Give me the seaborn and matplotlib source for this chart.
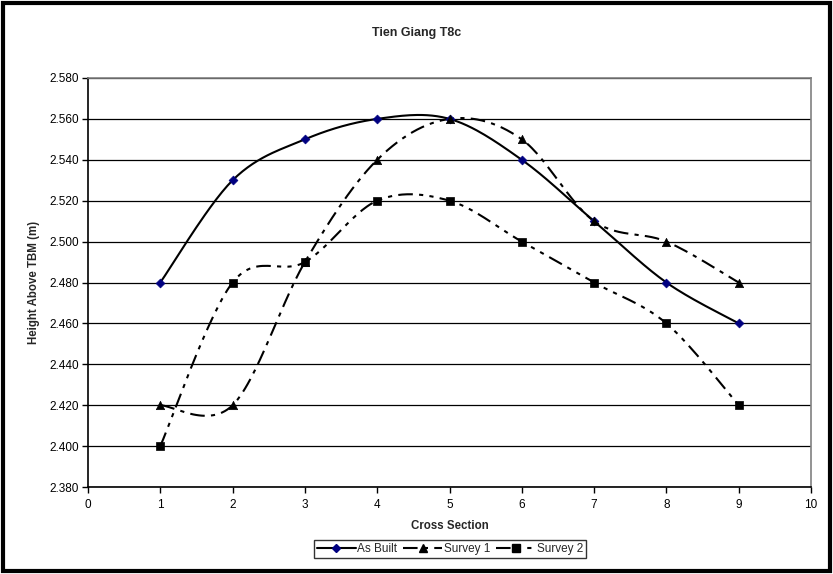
import numpy as np
import pandas as pd
import matplotlib
matplotlib.use("Agg")
import matplotlib.pyplot as plt
import seaborn as sns
from matplotlib.patches import Rectangle

sections = [1, 2, 3, 4, 5, 6, 7, 8, 9]
as_built = [2.48, 2.53, 2.55, 2.56, 2.56, 2.54, 2.51, 2.48, 2.46]
survey_1 = [2.42, 2.42, 2.49, 2.54, 2.56, 2.55, 2.51, 2.50, 2.48]
survey_2 = [2.40, 2.48, 2.49, 2.52, 2.52, 2.50, 2.48, 2.46, 2.42]
series_names = ["As Built", "Survey 1", "Survey 2"]

sns.set_theme(style="white")
plt.rcParams['font.family'] = ['Liberation Sans', 'DejaVu Sans']

df = pd.DataFrame({"Cross Section": sections * 3,
                   "Height": as_built + survey_1 + survey_2,
                   "Series": sum([[n] * len(sections) for n in series_names], [])})


def smooth(x, y, n=30):
    # Excel-style smoothed line: cubic Bezier with Catmull-Rom control points
    x = np.asarray(x, float); y = np.asarray(y, float)
    xs, ys = [], []
    for i in range(len(x) - 1):
        p0 = np.array([x[max(i - 1, 0)], y[max(i - 1, 0)]])
        p1 = np.array([x[i], y[i]])
        p2 = np.array([x[i + 1], y[i + 1]])
        p3 = np.array([x[min(i + 2, len(x) - 1)], y[min(i + 2, len(x) - 1)]])
        c1 = p1 + (p2 - p0) / 6.0
        c2 = p2 - (p3 - p1) / 6.0
        t = np.linspace(0, 1, n)[:, None]
        b = ((1 - t) ** 3) * p1 + 3 * ((1 - t) ** 2) * t * c1 + 3 * (1 - t) * t ** 2 * c2 + t ** 3 * p2
        xs.extend(b[:, 0]); ys.extend(b[:, 1])
    return np.array(xs), np.array(ys)


W, H = 833, 574
fig = plt.figure(figsize=(W / 100, H / 100), dpi=100)
L, R, T, B = 88, 811, 78, 487
ax = fig.add_axes([L / W, 1 - B / H, (R - L) / W, (B - T) / H])

styles = {
    "As Built": dict(color="black", ls="-", marker="D", mcolor="#000080", ms=4.5),
    "Survey 1": dict(color="black", ls=(0, (7, 3, 2, 3)), marker="^", mcolor="black", ms=6),
    "Survey 2": dict(color="black", ls=(0, (7, 3, 2, 3, 2, 3)), marker="s", mcolor="black", ms=5.5),
}

handles = []
for name in series_names:
    sub = df[df["Series"] == name]
    st = styles[name]
    sx, sy = smooth(sub["Cross Section"], sub["Height"])
    sns.lineplot(x=sx, y=sy, ax=ax, color=st["color"], lw=1.5, linestyle=st["ls"],
                 sort=False, estimator=None, legend=False)
    sns.scatterplot(x=sub["Cross Section"], y=sub["Height"], ax=ax, marker=st["marker"],
                    color=st["mcolor"], s=st["ms"] ** 2, edgecolor=st["mcolor"],
                    linewidth=0.5, legend=False, zorder=5)
    h, = ax.plot([], [], color=st["color"], lw=1.5, linestyle=st["ls"], marker=st["marker"],
                 markerfacecolor=st["mcolor"], markeredgecolor=st["mcolor"], markersize=st["ms"])
    handles.append(h)

ax.set_xlim(0, 10)
ax.set_ylim(2.38, 2.58)
ax.set_xticks(range(0, 11))
yt = np.arange(2.38, 2.5801, 0.02)
ax.set_yticks(yt)
ax.set_yticklabels([f"{v:.3f}" for v in yt])
ax.yaxis.grid(True, color="black", lw=0.9)
ax.xaxis.grid(False)
ax.tick_params(axis="both", direction="out", length=4, width=1, colors="black",
               labelsize=8.5, left=True, bottom=True)
ax.tick_params(axis="x", pad=4.5)
ax.tick_params(axis="y", pad=2.5)
for s in ["left", "bottom"]:
    ax.spines[s].set_color("black"); ax.spines[s].set_linewidth(1.2)
for s in ["top", "right"]:
    ax.spines[s].set_color("#808080"); ax.spines[s].set_linewidth(1.2)

ax.set_xlabel("Cross Section", fontsize=8.3, fontweight="bold", labelpad=6.5)
ax.set_ylabel("Height Above TBM (m)", fontsize=8.3, fontweight="bold", labelpad=7)
fig.text(0.5, 1 - 33 / H, "Tien Giang T8c", ha="center", va="center",
         fontsize=9, fontweight="bold")

leg = fig.legend(handles, series_names, loc="center", bbox_to_anchor=(450 / W, 1 - 549 / H),
                 ncol=3, frameon=True, fontsize=8.5, handlelength=3.3, handletextpad=0.15,
                 columnspacing=0.5, borderpad=0.25, borderaxespad=0, fancybox=False)
leg.get_frame().set_edgecolor("black")
leg.get_frame().set_linewidth(1.0)

fig.patches.append(Rectangle((0.004, 0.005), 0.992, 0.990, transform=fig.transFigure,
                             fill=False, edgecolor="black", lw=3))

fig.savefig("out.png", dpi=100)
